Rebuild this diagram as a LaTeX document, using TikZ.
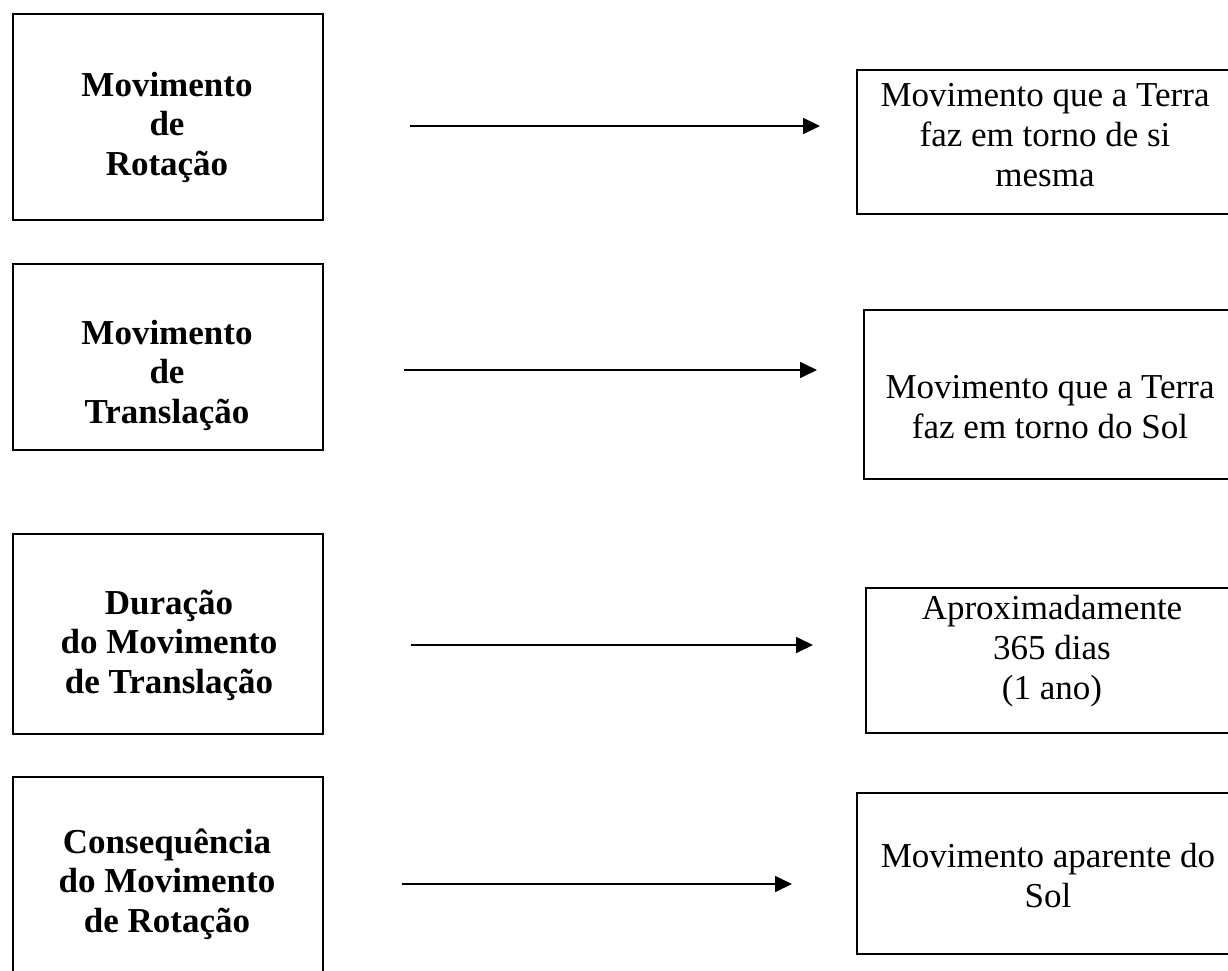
\documentclass[tikz,border=0pt]{standalone}
\usepackage{fontspec}
\setmainfont{Liberation Serif}
\usetikzlibrary{positioning}
\usetikzlibrary{arrows.meta}

\begin{document}
\begin{tikzpicture}
		[
			x = 1pt, y = -1pt,
			box/.style = {rectangle, draw = black, line width = 1.8pt, inner sep = 0pt, anchor = north west},
			lefttext/.style = {align = center, inner sep = 0pt, font = \fontsize{35}{39.5}\selectfont\bfseries},
			righttext/.style = {align = center, inner sep = 0pt, font = \fontsize{35}{40}\selectfont},
			arrow/.style = {line width = 1.7pt, -{Triangle[length = 17pt, width = 16pt]}},
		]
			%
			\useasboundingbox (0,0) rectangle (1228,971);
			\clip (0,0) rectangle (1228,971);
			%
			% left column
			\node (rotbox) [box, minimum width = 310pt, minimum height = 206pt] at (12,13) {};
			\node (transbox) [box, minimum width = 310pt, minimum height = 186pt] at (12,263) {};
			\node (durbox) [box, minimum width = 310pt, minimum height = 200pt] at (12,533) {};
			\node (consbox) [box, minimum width = 310pt, minimum height = 220pt] at (12,776) {};
			\node (rottext) [lefttext] at (167,127) {Movimento\\de\\Rotação};
			\node (transtext) [lefttext] at (167,375) {Movimento\\de\\Translação};
			\node (durtext) [lefttext] at (169,645) {Duração\\do Movimento\\de Translação};
			\node (constext) [lefttext] at (167,884) {Consequência\\do Movimento\\de Rotação};
			%
			% right column
			\node (rotdef) [box, minimum width = 400pt, minimum height = 144pt] at (856,69) {};
			\node (transdef) [box, minimum width = 400pt, minimum height = 169pt] at (863,309) {};
			\node (durdef) [box, minimum width = 400pt, minimum height = 145pt] at (865,587) {};
			\node (consdef) [box, minimum width = 400pt, minimum height = 161pt] at (856,792) {};
			\node (rotdeftext) [righttext] at (1045,135) {Movimento que a Terra\\faz em torno de si\\mesma};
			\node (transdeftext) [righttext] at (1050,407) {Movimento que a Terra\\faz em torno do Sol};
			\node (durdeftext) [righttext] at (1052,651) {Aproximadamente\\365 dias\\(1 ano)};
			\node (consdeftext) [righttext] at (1048,876) {Movimento aparente do\\Sol};
			%
			% arrows
			\coordinate (rotfrom) at (410,126);
			\coordinate (rotto) at (820,126);
			\coordinate (transfrom) at (404,370);
			\coordinate (transto) at (817,370);
			\coordinate (durfrom) at (411,645);
			\coordinate (durto) at (813,645);
			\coordinate (consfrom) at (402,884);
			\coordinate (consto) at (792,884);
			\draw [arrow] (rotfrom) -- (rotto);
			\draw [arrow] (transfrom) -- (transto);
			\draw [arrow] (durfrom) -- (durto);
			\draw [arrow] (consfrom) -- (consto);
			%
		\end{tikzpicture}
\end{document}
